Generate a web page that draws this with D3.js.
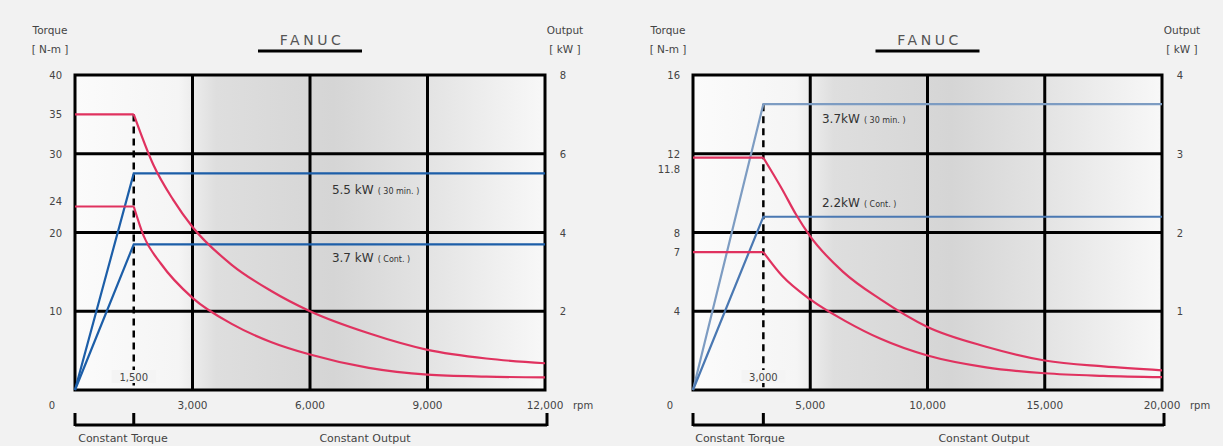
<!DOCTYPE html>
<html>
<head>
<meta charset="utf-8">
<script src="https://cdn.jsdelivr.net/npm/d3@7"></script>
<style>
  body { margin: 0; background: #f2f2f2; }
  svg { display: block; }
  text { font-family: "DejaVu Sans", sans-serif; fill: #444; }
</style>
</head>
<body>
<script>
// ---- data ----
// left chart (12,000 rpm spindle)
const leftRpmTicks = [3000, 6000, 9000, 12000]
const leftRpmLabels = ['3,000', '6,000', '9,000', '12,000']
const leftTorqueTicks = [10, 20, 24, 30, 35, 40]
const leftTorqueGrid = [10, 20, 30]
const leftOutputTicks = [2, 4, 6, 8]
const leftBaseRpm = 1500
const leftTorque30 = [[0, 35], [1500, 35], [2000, 28.6], [2500, 24.2], [3000, 20.7], [4000, 15.9], [5000, 12.6], [6000, 10], [7500, 7.2], [9000, 5.1], [10500, 4], [12000, 3.4]]
const leftTorqueCont = [[0, 23.3], [1500, 23.3], [1750, 19.6], [2200, 16], [3000, 11.7], [4000, 8.4], [5000, 6.1], [6000, 4.5], [7500, 2.8], [9000, 1.95], [10500, 1.7], [12000, 1.6]]
const leftOutput30 = [[0, 0], [1500, 5.5], [12000, 5.5]]
const leftOutputCont = [[0, 0], [1500, 3.7], [12000, 3.7]]

// right chart (20,000 rpm spindle)
const rightRpmTicks = [5000, 10000, 15000, 20000]
const rightRpmLabels = ['5,000', '10,000', '15,000', '20,000']
const rightTorqueTicks = [4, 7, 8, 12, 16]
const rightTorqueGrid = [4, 8, 12]
const rightOutputTicks = [1, 2, 3, 4]
const rightBaseRpm = 3000
const rightTorque30 = [[0, 11.8], [3000, 11.8], [3800, 10.2], [4400, 8.9], [5000, 7.8], [6400, 6], [8000, 4.6], [10000, 3.2], [12500, 2.2], [15000, 1.5], [17500, 1.2], [20000, 1.0]]
const rightTorqueCont = [[0, 7], [3000, 7], [3800, 5.8], [5000, 4.6], [6500, 3.5], [8000, 2.6], [10000, 1.75], [12500, 1.15], [15000, 0.85], [17500, 0.72], [20000, 0.65]]
const rightOutput30 = [[0, 0], [3000, 3.63], [20000, 3.63]]
const rightOutputCont = [[0, 0], [3000, 2.2], [20000, 2.2]]

const svg = d3.select('body').append('svg')
  .attr('width', 1223)
  .attr('height', 446)

const defs = svg.append('defs')

function drawPanel(p) {
  const x = d3.scaleLinear().domain([0, p.rpmMax]).range([p.left, p.right])
  const yT = d3.scaleLinear().domain([0, p.torqueMax]).range([390, 75])
  const yP = d3.scaleLinear().domain([0, p.outputMax]).range([390, 75])
  const g = svg.append('g')

  // grey shading of the plot area
  const grad = defs.append('linearGradient').attr('id', 'shade' + p.id)
  ;[[0, '#fbfbfb'], [0.22, '#f5f5f5'], [0.3, '#dedede'], [0.55, '#d5d5d5'], [0.76, '#e4e4e4'], [1, '#f8f8f8']]
    .forEach(function (s) { grad.append('stop').attr('offset', s[0]).attr('stop-color', s[1]) })
  g.append('rect')
    .attr('x', p.left).attr('y', 75)
    .attr('width', p.right - p.left).attr('height', 315)
    .attr('fill', 'url(#shade' + p.id + ')')

  // grid
  g.selectAll('.hg').data(p.torqueGrid).enter().append('line')
    .attr('x1', p.left).attr('x2', p.right)
    .attr('y1', d => yT(d)).attr('y2', d => yT(d))
    .attr('stroke', '#000').attr('stroke-width', 3)
  g.selectAll('.vg').data(p.rpmTicks.slice(0, -1)).enter().append('line')
    .attr('x1', d => x(d)).attr('x2', d => x(d))
    .attr('y1', 75).attr('y2', 390)
    .attr('stroke', '#000').attr('stroke-width', 3)
  g.append('rect')
    .attr('x', p.left).attr('y', 75)
    .attr('width', p.right - p.left).attr('height', 315)
    .attr('fill', 'none').attr('stroke', '#000').attr('stroke-width', 3)

  // base speed dashed line, from the highest curve at base speed
  const topY = Math.min(yT(p.torque30[1][1]), yP(p.output30[1][1]))
  g.append('line')
    .attr('x1', x(p.baseRpm)).attr('x2', x(p.baseRpm))
    .attr('y1', topY).attr('y2', 390)
    .attr('stroke', '#000').attr('stroke-width', 2.5)
    .attr('stroke-dasharray', '7,5')
  g.append('rect')
    .attr('x', x(p.baseRpm) - 22).attr('y', 370)
    .attr('width', 44).attr('height', 13)
    .attr('fill', '#f4f4f4')
  g.append('text')
    .attr('x', x(p.baseRpm)).attr('y', 381)
    .attr('text-anchor', 'middle').style('font-size', '10px')
    .text(d3.format(',')(p.baseRpm))

  // curves: flat torque part straight, the fall-off smoothed
  const flat = d3.line().x(d => x(d[0])).y(d => yT(d[1]))
  const fall = d3.line().x(d => x(d[0])).y(d => yT(d[1])).curve(d3.curveMonotoneX)
  const powerLine = d3.line().x(d => x(d[0])).y(d => yP(d[1]))
  ;[p.output30, p.outputCont].forEach(function (d, i) {
    g.append('path').attr('d', powerLine(d))
      .attr('fill', 'none').attr('stroke', p.blue[i]).attr('stroke-width', 2.2)
  })
  ;[p.torque30, p.torqueCont].forEach(function (d) {
    g.append('path').attr('d', flat(d.slice(0, 2)) + fall(d.slice(1)))
      .attr('fill', 'none').attr('stroke', '#e0325f').attr('stroke-width', 2.2)
      .attr('stroke-linejoin', 'round')
  })

  // output labels
  p.kwLabels.forEach(function (l) {
    const t = g.append('text')
      .attr('x', x(l.rpm)).attr('y', yP(l.value) + l.dy)
      .style('fill', '#333')
    t.append('tspan').style('font-size', '12px').text(l.main)
    t.append('tspan').style('font-size', '8px').attr('dx', 4).text(l.note)
  })

  // left torque ticks
  g.selectAll('.tl').data(p.torqueTicks).enter().append('text')
    .attr('x', p.left - 13).attr('y', d => yT(d) + 4)
    .attr('text-anchor', 'end').style('font-size', '10px')
    .text(d => d)
  if (p.extraTick) {
    g.append('text')
      .attr('x', p.left - 13).attr('y', yT(p.extraTick) + 15)
      .attr('text-anchor', 'end').style('font-size', '10px')
      .text(p.extraTick)
  }
  g.append('text')
    .attr('x', p.left - 23).attr('y', 409)
    .attr('text-anchor', 'middle').style('font-size', '10px')
    .text('0')

  // right output ticks
  g.selectAll('.ol').data(p.outputTicks).enter().append('text')
    .attr('x', p.right + 18).attr('y', d => yP(d) + 4)
    .attr('text-anchor', 'middle').style('font-size', '10px')
    .text(d => d)

  // rpm ticks
  g.selectAll('.rl').data(p.rpmTicks).enter().append('text')
    .attr('x', d => x(d)).attr('y', 409)
    .attr('text-anchor', 'middle').style('font-size', '10.5px')
    .text((d, i) => p.rpmLabels[i])
  g.append('text')
    .attr('x', p.right + 28).attr('y', 409)
    .style('font-size', '10px')
    .text('rpm')

  // axis titles
  g.append('text').attr('x', p.left - 25).attr('y', 34)
    .attr('text-anchor', 'middle').style('font-size', '10.5px').text('Torque')
  g.append('text').attr('x', p.left - 25).attr('y', 53)
    .attr('text-anchor', 'middle').style('font-size', '10.5px').text('[ N-m ]')
  g.append('text').attr('x', p.right + 20).attr('y', 34)
    .attr('text-anchor', 'middle').style('font-size', '10.5px').text('Output')
  g.append('text').attr('x', p.right + 20).attr('y', 53)
    .attr('text-anchor', 'middle').style('font-size', '10.5px').text('[ kW ]')

  // FANUC header
  const cx = (p.left + p.right) / 2
  g.append('text').attr('x', cx + 2).attr('y', 45)
    .attr('text-anchor', 'middle').style('font-size', '14px')
    .style('letter-spacing', '3.5px').style('fill', '#555').text('FANUC')
  g.append('line')
    .attr('x1', cx - 52).attr('x2', cx + 52)
    .attr('y1', 51).attr('y2', 51)
    .attr('stroke', '#000').attr('stroke-width', 3)

  // constant torque / output brackets
  const br = [p.left, x(p.baseRpm), p.right + 2]
  g.append('line').attr('x1', br[0]).attr('x2', br[2])
    .attr('y1', 425).attr('y2', 425)
    .attr('stroke', '#000').attr('stroke-width', 3)
  g.selectAll('.bt').data(br).enter().append('line')
    .attr('x1', d => d).attr('x2', d => d)
    .attr('y1', 413).attr('y2', 426)
    .attr('stroke', '#000').attr('stroke-width', 3)
  g.append('text').attr('x', p.left + p.ctShift).attr('y', 442)
    .attr('text-anchor', 'middle').style('font-size', '11px').text('Constant Torque')
  g.append('text').attr('x', p.left + p.coShift).attr('y', 442)
    .attr('text-anchor', 'middle').style('font-size', '11px').text('Constant Output')
}

drawPanel({
  id: 'L', left: 75, right: 545, rpmMax: 12000, torqueMax: 40, outputMax: 8,
  rpmTicks: leftRpmTicks, rpmLabels: leftRpmLabels,
  torqueTicks: leftTorqueTicks, torqueGrid: leftTorqueGrid, outputTicks: leftOutputTicks,
  baseRpm: leftBaseRpm,
  torque30: leftTorque30, torqueCont: leftTorqueCont,
  output30: leftOutput30, outputCont: leftOutputCont,
  blue: ['#1c5ea8', '#1c5ea8'],
  kwLabels: [
    {rpm: 6560, value: 5.5, dy: 21, main: '5.5 kW', note: '( 30 min. )'},
    {rpm: 6560, value: 3.7, dy: 18, main: '3.7 kW', note: '( Cont. )'}
  ],
  ctShift: 48, coShift: 290
})

drawPanel({
  id: 'R', left: 693, right: 1162, rpmMax: 20000, torqueMax: 16, outputMax: 4,
  rpmTicks: rightRpmTicks, rpmLabels: rightRpmLabels,
  torqueTicks: rightTorqueTicks, torqueGrid: rightTorqueGrid, outputTicks: rightOutputTicks,
  extraTick: 11.8,
  baseRpm: rightBaseRpm,
  torque30: rightTorque30, torqueCont: rightTorqueCont,
  output30: rightOutput30, outputCont: rightOutputCont,
  blue: ['#7d9cc2', '#4a78b2'],
  kwLabels: [
    {rpm: 5500, value: 3.63, dy: 19, main: '3.7kW', note: '( 30 min. )'},
    {rpm: 5500, value: 2.2, dy: -10, main: '2.2kW', note: '( Cont. )'}
  ],
  ctShift: 47, coShift: 291
})
</script>
</body>
</html>
